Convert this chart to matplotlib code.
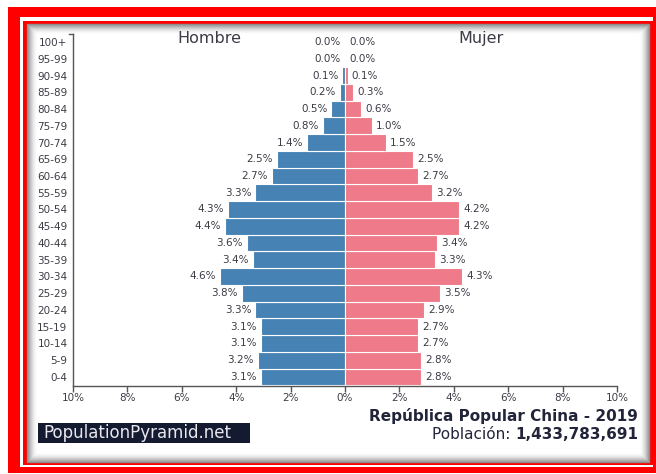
import matplotlib
matplotlib.use("Agg")
import matplotlib.pyplot as plt
from matplotlib.patches import Rectangle
import numpy as np

# === DATA ===
age_groups = ["0-4", "5-9", "10-14", "15-19", "20-24", "25-29", "30-34",
              "35-39", "40-44", "45-49", "50-54", "55-59", "60-64", "65-69",
              "70-74", "75-79", "80-84", "85-89", "90-94", "95-99", "100+"]
male = [3.1, 3.2, 3.1, 3.1, 3.3, 3.8, 4.6, 3.4, 3.6, 4.4, 4.3, 3.3, 2.7, 2.5,
        1.4, 0.8, 0.5, 0.2, 0.1, 0.0, 0.0]
female = [2.8, 2.8, 2.7, 2.7, 2.9, 3.5, 4.3, 3.3, 3.4, 4.2, 4.2, 3.2, 2.7, 2.5,
          1.5, 1.0, 0.6, 0.3, 0.1, 0.0, 0.0]
xticks = [-10, -8, -6, -4, -2, 0, 2, 4, 6, 8, 10]

MALE_COLOR = "#4682b4"
FEMALE_COLOR = "#ef7a89"
TEXT_COLOR = "#3c3c46"
DARK = "#22243a"
W, H = 656, 474

fig = plt.figure(figsize=(W / 100, H / 100), dpi=100)

# === FRAME (pixel coords) ===
bg = fig.add_axes([0, 0, 1, 1], zorder=0)
bg.set_xlim(0, W)
bg.set_ylim(H, 0)
bg.axis("off")

bg.add_patch(Rectangle((8, 7), W, 466, facecolor="#ff0000", edgecolor="none"))
bg.add_patch(Rectangle((20, 17), 633, 450, facecolor="white", edgecolor="none"))
bg.add_patch(Rectangle((23, 21), 630, 444, facecolor="#ff0000", edgecolor="none"))
bg.add_patch(Rectangle((27, 24), 622, 438, facecolor="white", edgecolor="none"))

# inner shadow
for i in range(10):
    g = 0.55 + 0.045 * i
    bg.add_patch(Rectangle((27 + i, 24 + i), 622 - 2 * i, 438 - 2 * i,
                           facecolor="none", edgecolor=(g, g, g),
                           linewidth=1.0, alpha=1 - i / 10))

# watermark box
bg.add_patch(Rectangle((38, 423), 212, 20, facecolor="#141a30", edgecolor="none"))
bg.text(43, 433.5, "PopulationPyramid.net", ha="left", va="center",
        fontsize=12, color="#e8e8ee")

# === PYRAMID ===
ax = fig.add_axes([73 / W, 1 - 386 / H, 544 / W, 352 / H], zorder=1)
ax.patch.set_alpha(0)
y = np.arange(len(age_groups))
ax.barh(y, [-v for v in male], height=1.0, color=MALE_COLOR,
        edgecolor="white", linewidth=0.8)
ax.barh(y, female, height=1.0, color=FEMALE_COLOR,
        edgecolor="white", linewidth=0.8)

for yi, m, f in zip(y, male, female):
    ax.annotate(f"{m:.1f}%", (-m, yi), xytext=(-4, 0), textcoords="offset pixels",
                ha="right", va="center", fontsize=7.5, color=TEXT_COLOR)
    ax.annotate(f"{f:.1f}%", (f, yi), xytext=(4, 0), textcoords="offset pixels",
                ha="left", va="center", fontsize=7.5, color=TEXT_COLOR)

ax.set_xlim(-10, 10)
ax.set_ylim(-0.54, 20.48)
ax.set_xticks(xticks)
ax.set_xticklabels([f"{abs(t)}%" for t in xticks])
ax.set_yticks(y)
ax.set_yticklabels(age_groups)
ax.tick_params(axis="x", length=4, width=1, color="#555", labelsize=7.5,
               labelcolor=TEXT_COLOR, pad=1)
ax.tick_params(axis="y", length=0, labelsize=7.5, labelcolor=TEXT_COLOR, pad=4)
for s in ["top", "right"]:
    ax.spines[s].set_visible(False)
for s in ["left", "bottom"]:
    ax.spines[s].set_color("#555")
    ax.spines[s].set_linewidth(1)
ax.plot([-0.008, 0], [1, 1], transform=ax.transAxes, color="#555",
        linewidth=1, clip_on=False)

ax.text(0.25, 0.988, "Hombre", transform=ax.transAxes, ha="center", va="center",
        fontsize=11.5, color=TEXT_COLOR)
ax.text(0.75, 0.988, "Mujer", transform=ax.transAxes, ha="center", va="center",
        fontsize=11.5, color=TEXT_COLOR)

# === FOOTER ===
fig.text(638 / W, 1 - 421 / H, "República Popular China - 2019", ha="right",
         va="baseline", fontsize=11, fontweight="bold", color=DARK)
num = fig.text(638 / W, 1 - 439 / H, "1,433,783,691", ha="right", va="baseline",
               fontsize=11, fontweight="bold", color=DARK)
fig.canvas.draw()
bb = num.get_window_extent()
fig.text(bb.x0 / W, 1 - 439 / H, "Población: ", ha="right", va="baseline",
         fontsize=11, color=DARK)

plt.savefig("out.png", dpi=100)
